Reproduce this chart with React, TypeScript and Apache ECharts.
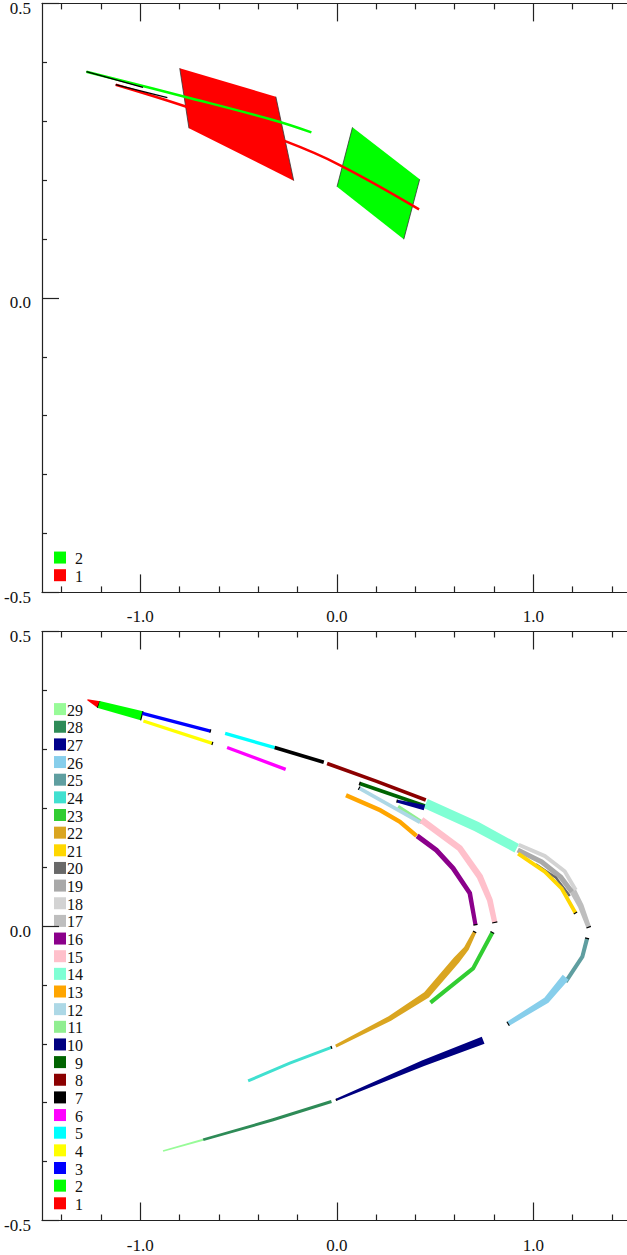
import React, { useEffect, useRef } from "react";
import * as echarts from "echarts";

// ---- axes ----
const X_MAJOR = [-1, 0, 1];
const X_MINOR = [-1.4, -1.2, -0.8, -0.6, -0.4, -0.2, 0.2, 0.4, 0.6, 0.8, 1.2, 1.4];
const X_RANGE = [-1.5, 1.5];
const Y_RANGE = [-0.5, 0.5];
const Y_STEP = 0.5;

// ---- upper panel: two tracks, each a thin path plus a slab ----
const TRACK_NAMES = ["1", "2"];
const TRACK_COLORS = ["#ff0000", "#00ff00"];
const TRACK1_PATH = [[-1.125, 0.362], [-0.765, 0.3246], [-0.256, 0.2652], [0.015, 0.2256], [0.419, 0.1504]];
const TRACK2_PATH = [[-1.274, 0.384], [-0.774, 0.3416], [-0.324, 0.302], [-0.129, 0.281]];
const TRACK1_HEAD = [[-1.125, 0.362], [-0.862, 0.34]];
const TRACK2_HEAD = [[-1.274, 0.384], [-0.986, 0.3576]];
const TRACK1_SLAB = [[-0.799, 0.39], [-0.31, 0.3416], [-0.219, 0.199], [-0.752, 0.288]];
const TRACK2_SLAB = [[0.08, 0.2896], [0.422, 0.2014], [0.341, 0.0995], [0.0015, 0.1888]];

// ---- lower panel: numbered ribbon pieces, points are [x, y, thickness] ----
const SEG_NAMES = Array.from({ length: 29 }, (_, i) => String(i + 1));
const SEG_COLORS = [
  "#ff0000", "#00ff00", "#0000ff", "#ffff00", "#00ffff", "#ff00ff", "#000000", "#8b0000",
  "#006400", "#000080", "#90ee90", "#add8e6", "#ffa500", "#7fffd4", "#ffc0cb", "#8b008b",
  "#bebebe", "#d3d3d3", "#a9a9a9", "#696969", "#ffd700", "#daa520", "#32cd32", "#40e0d0",
  "#5f9ea0", "#87ceeb", "#00008b", "#2e8b57", "#98fb98",
];
const SEG_01 = [[-1.269, 0.384, 0.002], [-1.211, 0.376, 0.012]];
const SEG_02 = [[-1.211, 0.376, 0.012], [-0.992, 0.357, 0.016]];
const SEG_03 = [[-0.989, 0.361, 0.0057], [-0.643, 0.331, 0.0057]];
const SEG_04 = [[-0.984, 0.348, 0.0055], [-0.633, 0.31, 0.0055]];
const SEG_05 = [[-0.568, 0.327, 0.0057], [-0.316, 0.303, 0.0057]];
const SEG_06 = [[-0.558, 0.303, 0.0057], [-0.26, 0.266, 0.0057]];
const SEG_07 = [[-0.316, 0.303, 0.0062], [-0.066, 0.278, 0.0062]];
const SEG_08 = [[-0.049, 0.276, 0.0062], [0.2, 0.246, 0.0062], [0.453, 0.214, 0.0062]];
const SEG_09 = [[0.117, 0.242, 0.0062], [0.457, 0.203, 0.0062]];
const SEG_10 = [[0.745, -0.194, 0.013], [0.439, -0.233, 0.01], [-0.002, -0.295, 0.004]];
const SEG_11 = [[0.312, 0.203, 0.0057], [0.431, 0.177, 0.0057]];
const SEG_12 = [[0.114, 0.234, 0.0062], [0.424, 0.176, 0.0062]];
const SEG_13 = [[0.047, 0.222, 0.0075], [0.219, 0.197, 0.0075], [0.321, 0.177, 0.0075], [0.406, 0.153, 0.0075]];
const SEG_14 = [[0.453, 0.208, 0.017], [0.711, 0.169, 0.017], [0.916, 0.132, 0.016]];
const SEG_15 = [[0.431, 0.18, 0.011], [0.626, 0.132, 0.011], [0.728, 0.084, 0.011], [0.779, 0.044, 0.01], [0.804, 0.006, 0.009]];
const SEG_16 = [[0.409, 0.153, 0.0085], [0.507, 0.129, 0.0085], [0.592, 0.098, 0.0085], [0.677, 0.056, 0.008], [0.706, 0.002, 0.007]];
const SEG_17 = [[1.196, 0.063, 0.012], [1.242, 0.034, 0.01], [1.282, -0.002, 0.008]];
const SEG_18 = [[0.926, 0.138, 0.0068], [1.059, 0.119, 0.0068], [1.16, 0.093, 0.0068], [1.216, 0.061, 0.0068]];
const SEG_19 = [[0.921, 0.129, 0.0085], [1.043, 0.109, 0.0085], [1.14, 0.083, 0.0085], [1.196, 0.058, 0.0085]];
const SEG_20 = [[1.013, 0.105, 0.0042], [1.115, 0.082, 0.0042], [1.186, 0.051, 0.0042]];
const SEG_21 = [[0.923, 0.123, 0.0065], [1.059, 0.092, 0.0065], [1.144, 0.064, 0.0065], [1.215, 0.022, 0.0065]];
const SEG_22 = [[0.702, -0.01, 0.006], [0.66, -0.038, 0.009], [0.609, -0.058, 0.012], [0.457, -0.117, 0.012], [0.27, -0.157, 0.0085], [-0.005, -0.204, 0.005]];
const SEG_23 = [[0.792, -0.011, 0.007], [0.694, -0.072, 0.007], [0.477, -0.13, 0.007]];
const SEG_24 = [[-0.027, -0.206, 0.005], [-0.239, -0.233, 0.005], [-0.451, -0.263, 0.005]];
const SEG_25 = [[1.274, -0.021, 0.007], [1.25, -0.052, 0.007], [1.165, -0.095, 0.007]];
const SEG_26 = [[1.165, -0.087, 0.013], [1.067, -0.126, 0.011], [0.872, -0.166, 0.008]];
const SEG_27 = [[0.307, 0.212, 0.005], [0.446, 0.201, 0.009]];
const SEG_28 = [[-0.027, -0.298, 0.005], [-0.324, -0.329, 0.005], [-0.68, -0.363, 0.0045]];
const SEG_29 = [[-0.68, -0.363, 0.0035], [-0.884, -0.382, 0.003]];
const SEGMENTS = [
  SEG_01, SEG_02, SEG_03, SEG_04, SEG_05, SEG_06, SEG_07, SEG_08, SEG_09, SEG_10,
  SEG_11, SEG_12, SEG_13, SEG_14, SEG_15, SEG_16, SEG_17, SEG_18, SEG_19, SEG_20,
  SEG_21, SEG_22, SEG_23, SEG_24, SEG_25, SEG_26, SEG_27, SEG_28, SEG_29,
];
// which end of each piece carries a dark cap: "first", "last" or "" for none
const SEG_CAPS = [
  "last", "last", "last", "last", "", "", "", "", "first", "last",
  "last", "first", "", "", "last", "last", "last", "", "", "",
  "last", "first", "first", "first", "first", "last", "first", "", "",
];

// ---- layout ----
const W = 627;
const H = 1255;
const PLOT_LEFT = 42;
const PLOT_W = 589.5;
const PLOT_H = 589;
const PANEL_TOPS = [3.4, 631.5];
const FONT = "Liberation Serif";
const INK = "#222";

// Both edges of a ribbon of varying thickness, built in pixel space.
function ribbonEdges(pts: number[][], api: any) {
  const P = pts.map((p) => api.coord([p[0], p[1]]));
  const half = pts.map((p) => api.size([0, p[2]])[1] / 2);
  const n = P.length;
  const a: number[][] = [];
  const b: number[][] = [];
  for (let i = 0; i < n; i++) {
    const p0 = P[Math.max(0, i - 1)];
    const p1 = P[Math.min(n - 1, i + 1)];
    let dx = p1[0] - p0[0];
    let dy = p1[1] - p0[1];
    const len = Math.hypot(dx, dy) || 1;
    dx /= len;
    dy /= len;
    const nx = -dy;
    const ny = dx;
    a.push([P[i][0] + nx * half[i], P[i][1] + ny * half[i]]);
    b.push([P[i][0] - nx * half[i], P[i][1] - ny * half[i]]);
  }
  return { a, b };
}

function xAxesFor(gridIndex: number) {
  const line = { color: INK, width: 1.2 };
  const base = {
    type: "value",
    gridIndex,
    min: X_RANGE[0],
    max: X_RANGE[1],
    splitLine: { show: false },
  };
  const major = { show: true, inside: true, length: 18, customValues: X_MAJOR, lineStyle: line };
  const minor = { show: true, inside: true, length: 6, customValues: X_MINOR, lineStyle: line };
  return [
    {
      ...base,
      position: "bottom",
      axisLine: { show: true, onZero: false, lineStyle: line },
      axisTick: major,
      axisLabel: {
        show: true,
        customValues: X_MAJOR,
        formatter: (v: number) => v.toFixed(1),
        margin: 16,
        fontFamily: FONT,
        fontSize: 17,
        color: "#111",
      },
    },
    { ...base, position: "bottom", axisLine: { show: false, onZero: false }, axisTick: minor, axisLabel: { show: false } },
    { ...base, position: "top", axisLine: { show: true, onZero: false, lineStyle: line }, axisTick: major, axisLabel: { show: false } },
    { ...base, position: "top", axisLine: { show: false, onZero: false }, axisTick: minor, axisLabel: { show: false } },
  ];
}

function yAxisFor(gridIndex: number) {
  const line = { color: INK, width: 1.2 };
  return {
    type: "value",
    gridIndex,
    min: Y_RANGE[0],
    max: Y_RANGE[1],
    interval: Y_STEP,
    position: "left",
    axisLine: { show: true, onZero: false, lineStyle: line },
    axisTick: { show: true, inside: true, length: 17, lineStyle: line },
    minorTick: { show: true, splitNumber: 5, length: 5, lineStyle: line },
    splitLine: { show: false },
    minorSplitLine: { show: false },
    axisLabel: {
      formatter: (v: number) => v.toFixed(1),
      margin: 11,
      fontFamily: FONT,
      fontSize: 17,
      color: "#111",
      verticalAlign: "top",
      lineHeight: 10,
    },
  };
}

function legendItems(names: string[], colors: string[], bottom: number) {
  const out: any[] = [];
  names.forEach((name, i) => {
    const cy = bottom - 17.2 - i * 17.65;
    out.push({ type: "rect", shape: { x: 54, y: cy - 6, width: 12, height: 12 }, style: { fill: colors[i] } });
    out.push({
      type: "text",
      x: 83,
      y: cy + 1,
      style: { text: name, align: "right", verticalAlign: "middle", fontFamily: FONT, fontSize: 16, fill: "#111" },
    });
  });
  return out;
}

export default function App() {
  const ref = useRef<HTMLDivElement>(null);

  useEffect(() => {
    if (!ref.current) return;
    const chart = echarts.init(ref.current, null, { renderer: "svg" });
    const slabs = [TRACK1_SLAB, TRACK2_SLAB];
    const option: any = {
      animation: false,
      backgroundColor: "#ffffff",
      textStyle: { fontFamily: FONT },
      grid: PANEL_TOPS.map((top) => ({
        left: PLOT_LEFT,
        top,
        width: PLOT_W,
        height: PLOT_H,
        containLabel: false,
        outerBoundsMode: "none",
      })),
      xAxis: [...xAxesFor(0), ...xAxesFor(1)],
      yAxis: [yAxisFor(0), yAxisFor(1)],
      series: [
        {
          type: "custom",
          name: "slabs",
          xAxisIndex: 0,
          yAxisIndex: 0,
          z: 1,
          data: slabs.map((s, i) => [s[0][0], s[0][1], i]),
          renderItem: (params: any, api: any) => {
            const i = params.dataIndex;
            const pts = slabs[i].map((p) => api.coord(p));
            const edge = { stroke: "#333", lineWidth: 0.8 };
            return {
              type: "group",
              children: [
                { type: "polygon", shape: { points: pts }, style: { fill: TRACK_COLORS[i] } },
                { type: "line", shape: { x1: pts[0][0], y1: pts[0][1], x2: pts[3][0], y2: pts[3][1] }, style: edge },
                { type: "line", shape: { x1: pts[1][0], y1: pts[1][1], x2: pts[2][0], y2: pts[2][1] }, style: edge },
              ],
            };
          },
        },
        {
          type: "line",
          name: TRACK_NAMES[0],
          xAxisIndex: 0,
          yAxisIndex: 0,
          z: 3,
          data: TRACK1_PATH,
          smooth: 0.4,
          showSymbol: false,
          lineStyle: { color: TRACK_COLORS[0], width: 2.5 },
        },
        {
          type: "line",
          name: TRACK_NAMES[1],
          xAxisIndex: 0,
          yAxisIndex: 0,
          z: 3,
          data: TRACK2_PATH,
          smooth: 0.4,
          showSymbol: false,
          lineStyle: { color: TRACK_COLORS[1], width: 2.5 },
        },
        ...[TRACK1_HEAD, TRACK2_HEAD].map((d) => ({
          type: "line",
          xAxisIndex: 0,
          yAxisIndex: 0,
          z: 4,
          data: d,
          showSymbol: false,
          lineStyle: { color: "#000", width: 1.3 },
        })),
        {
          type: "custom",
          name: "ribbons",
          xAxisIndex: 4,
          yAxisIndex: 1,
          z: 2,
          data: SEGMENTS.map((s, i) => [s[0][0], s[0][1], i]),
          renderItem: (params: any, api: any) => {
            const i = params.dataIndex;
            const { a, b } = ribbonEdges(SEGMENTS[i], api);
            const children: any[] = [
              { type: "polygon", shape: { points: a.concat(b.slice().reverse()) }, style: { fill: SEG_COLORS[i] } },
            ];
            const cap = SEG_CAPS[i];
            if (cap) {
              const k = cap === "first" ? 0 : a.length - 1;
              children.push({
                type: "line",
                shape: { x1: a[k][0], y1: a[k][1], x2: b[k][0], y2: b[k][1] },
                style: { stroke: "#000", lineWidth: 1.2 },
              });
            }
            return { type: "group", children };
          },
        },
      ],
      graphic: [
        ...legendItems(TRACK_NAMES, TRACK_COLORS, PANEL_TOPS[0] + PLOT_H),
        ...legendItems(SEG_NAMES, SEG_COLORS, PANEL_TOPS[1] + PLOT_H),
      ],
    };
    chart.setOption(option);
    return () => chart.dispose();
  }, []);

  return (
    <div
      ref={ref}
      style={{ position: "absolute", left: 0, top: 0, width: W, height: H, background: "#fff" }}
    />
  );
}
